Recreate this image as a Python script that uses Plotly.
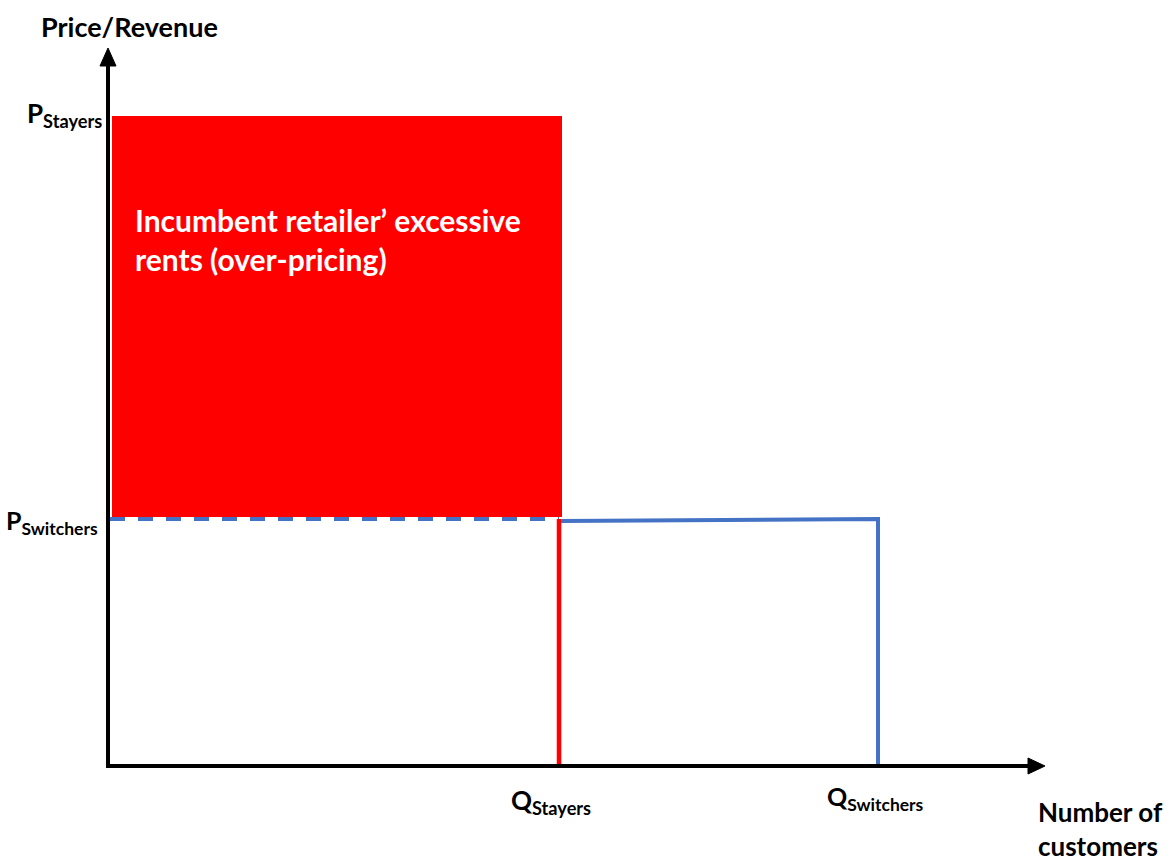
import plotly.graph_objects as go

# Quantities / prices (in chart units; origin at the axes corner)
Q_STAYERS = 451
Q_SWITCHERS = 770
P_STAYERS = 650
P_SWITCHERS = 247

X_AXIS_END = 937
Y_AXIS_END = 718

AXIS_LABEL_Y = "Price/Revenue"
AXIS_LABEL_X = "Number of<br>customers"
AREA_TEXT = "Incumbent retailer’ excessive<br>rents (over-pricing)"

RED = "#FF0000"
BLUE = "#4472C4"
FONT = "Lato"

fig = go.Figure()

# excessive rents rectangle
rx0, rx1 = 4, Q_STAYERS + 3
fig.add_trace(go.Scatter(
    x=[rx0, rx1, rx1, rx0, rx0],
    y=[P_SWITCHERS + 2, P_SWITCHERS + 2, P_STAYERS, P_STAYERS, P_SWITCHERS + 2],
    fill="toself", fillcolor=RED, line=dict(width=0), mode="lines",
    hoverinfo="skip", showlegend=False))

# dashed blue line at P_switchers up to Q_stayers
fig.add_trace(go.Scatter(
    x=[2, Q_STAYERS], y=[P_SWITCHERS, P_SWITCHERS], mode="lines",
    line=dict(color=BLUE, width=4, dash="15px,13px"),
    hoverinfo="skip", showlegend=False))

# red vertical line at Q_stayers
fig.add_trace(go.Scatter(
    x=[Q_STAYERS, Q_STAYERS], y=[P_SWITCHERS, 0], mode="lines",
    line=dict(color=RED, width=4.5), hoverinfo="skip", showlegend=False))

# blue solid line to Q_switchers then down
fig.add_trace(go.Scatter(
    x=[Q_STAYERS + 2, Q_SWITCHERS, Q_SWITCHERS],
    y=[P_SWITCHERS - 2, P_SWITCHERS, 0], mode="lines",
    line=dict(color=BLUE, width=4), hoverinfo="skip", showlegend=False))

# axes
fig.add_trace(go.Scatter(
    x=[0, 0, X_AXIS_END - 17], y=[Y_AXIS_END - 18, 0, 0], mode="lines",
    line=dict(color="black", width=4), hoverinfo="skip", showlegend=False))
# arrow heads
fig.add_trace(go.Scatter(
    x=[-8, 0, 8, -8], y=[Y_AXIS_END - 18, Y_AXIS_END, Y_AXIS_END - 18, Y_AXIS_END - 18],
    fill="toself", fillcolor="black", line=dict(color="black", width=1),
    mode="lines", hoverinfo="skip", showlegend=False))
fig.add_trace(go.Scatter(
    x=[X_AXIS_END - 17, X_AXIS_END, X_AXIS_END - 17, X_AXIS_END - 17], y=[8, 0, -8, 8],
    fill="toself", fillcolor="black", line=dict(color="black", width=1),
    mode="lines", hoverinfo="skip", showlegend=False))

def f(size, color="black"):
    return dict(family=FONT, size=size, color=color)

annotations = [
    dict(x=21, y=740, text="<b>" + AXIS_LABEL_Y + "</b>", xanchor="center", yanchor="middle",
         font=f(27)),
    dict(x=-4, y=P_STAYERS + 2, text="<b>P<sub>Stayers</sub></b>", xanchor="right", yanchor="middle",
         font=f(26)),
    dict(x=-8, y=P_SWITCHERS - 3, text="<b>P<sub>Switchers</sub></b>", xanchor="right", yanchor="middle",
         font=f(25)),
    dict(x=Q_STAYERS - 8, y=-35, text="<b>Q<sub>Stayers</sub></b>", xanchor="center", yanchor="middle",
         font=f(26)),
    dict(x=Q_SWITCHERS - 3, y=-32, text="<b>Q<sub>Switchers</sub></b>", xanchor="center", yanchor="middle",
         font=f(25)),
    dict(x=928, y=-63, text="<b>" + AXIS_LABEL_X + "</b>", xanchor="left", yanchor="middle", align="left",
         font=f(26)),
    dict(x=25, y=527, text="<b>" + AREA_TEXT + "</b>", xanchor="left", yanchor="middle", align="left",
         font=f(30, "white")),
]
for a in annotations:
    a.update(xref="x", yref="y", showarrow=False)

fig.update_layout(
    width=1171, height=861,
    margin=dict(l=0, r=0, t=0, b=0),
    paper_bgcolor="white", plot_bgcolor="white",
    xaxis=dict(range=[-108, 1063], visible=False, fixedrange=True),
    yaxis=dict(range=[-95, 766], visible=False, fixedrange=True),
    annotations=annotations,
    showlegend=False,
)

fig.write_html("out.html")
